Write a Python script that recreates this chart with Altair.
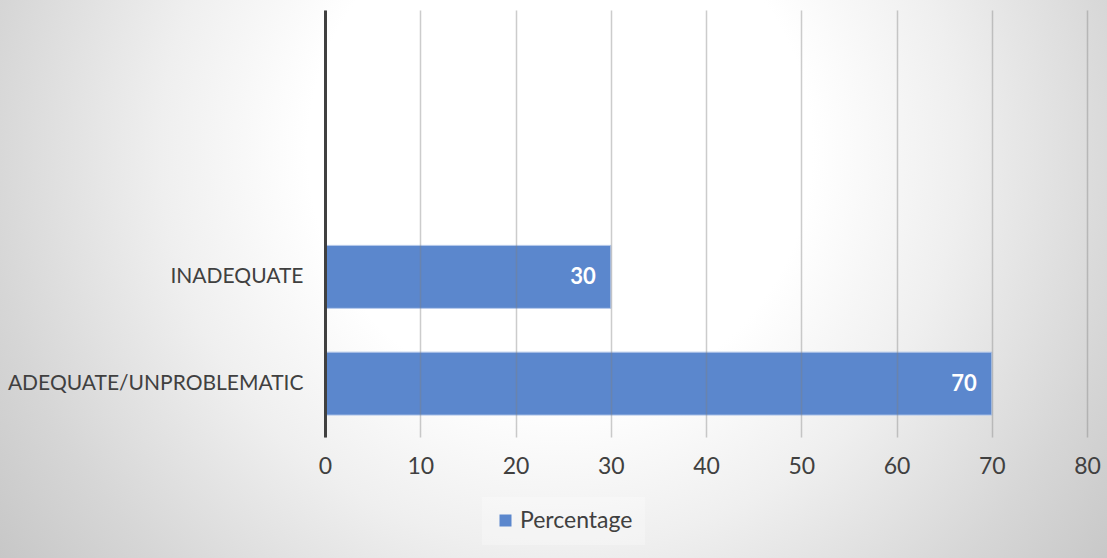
import altair as alt
import pandas as pd

# ---- data ----
categories = ["INADEQUATE", "ADEQUATE/UNPROBLEMATIC"]
values = [30, 70]
series_name = "Percentage"
y_domain = [" ", "  ", "INADEQUATE", "ADEQUATE/UNPROBLEMATIC"]
x_ticks = [0, 10, 20, 30, 40, 50, 60, 70, 80]

df = pd.DataFrame({"category": categories, "value": values, "series": [series_name] * len(categories)})
bg_df = pd.DataFrame({"k": [0]})

FONT = "Lato"
BAR = "#5b87cd"
TXT = "#404040"

W, H = 762, 427
PAD = {"left": 325, "top": 10, "right": 20, "bottom": 121}

gradient = alt.RadialGradient(
    gradient="radial",
    x1=0.5, y1=0.5, r1=0,
    x2=0.5, y2=0.5, r2=0.5,
    stops=[
        alt.GradientStop(offset=0, color="#ffffff"),
        alt.GradientStop(offset=0.36, color="#ffffff"),
        alt.GradientStop(offset=0.57, color="#efefef"),
        alt.GradientStop(offset=0.82, color="#d6d6d6"),
        alt.GradientStop(offset=1.0, color="#c6c6c6"),
    ],
)

background = alt.Chart(bg_df).mark_rect(fill=gradient, strokeWidth=0).encode(
    x=alt.value(-465), x2=alt.value(935), y=alt.value(-560), y2=alt.value(840)
)

x_enc = alt.X(
    "value:Q",
    scale=alt.Scale(domain=[0, 80], nice=False),
    axis=alt.Axis(
        values=x_ticks, title=None, domain=False, ticks=False, grid=True,
        gridColor="#808080", gridOpacity=0.4, gridWidth=1.5,
        labelFont=FONT, labelFontSize=23, labelColor=TXT, labelPadding=18,
        labelFlush=False,
        zindex=1,
    ),
)
y_enc = alt.Y(
    "category:N",
    sort=y_domain,
    scale=alt.Scale(domain=y_domain, paddingInner=0.41, paddingOuter=0.205),
    axis=alt.Axis(
        title=None, ticks=False, grid=False, domain=True,
        domainColor=TXT, domainWidth=3,
        labelFont=FONT, labelFontSize=21, labelColor=TXT, labelPadding=22,
        labelLimit=400,
        zindex=1,
    ),
)

bars = alt.Chart(df).mark_bar(stroke="#b4c8ea", strokeWidth=1).encode(
    x=x_enc,
    y=y_enc,
    color=alt.Color(
        "series:N",
        scale=alt.Scale(range=[BAR]),
        legend=alt.Legend(
            title=None, orient="none", legendX=157, legendY=487,
            symbolType="square", symbolSize=144, symbolStrokeWidth=0,
            labelFont=FONT, labelFontSize=23, labelColor=TXT, labelOffset=3,
            padding=12, fillColor="rgba(255,255,255,0.25)",
        ),
    ),
)

labels = alt.Chart(df).mark_text(
    align="right", baseline="middle", dx=-15, color="white",
    font=FONT, fontSize=22, fontWeight="bold",
).encode(
    x=alt.X("value:Q", scale=alt.Scale(domain=[0, 80], nice=False)),
    y=alt.Y("category:N", sort=y_domain, scale=alt.Scale(domain=y_domain)),
    text=alt.Text("value:Q"),
)

chart = alt.layer(background, bars, labels).properties(
    width=W, height=H,
    autosize=alt.AutoSizeParams(type="none"),
    padding=PAD,
    background="#d0d0d0",
).configure_view(stroke=None)

chart.save("out.html", embed_options={"renderer": "svg", "actions": False})
